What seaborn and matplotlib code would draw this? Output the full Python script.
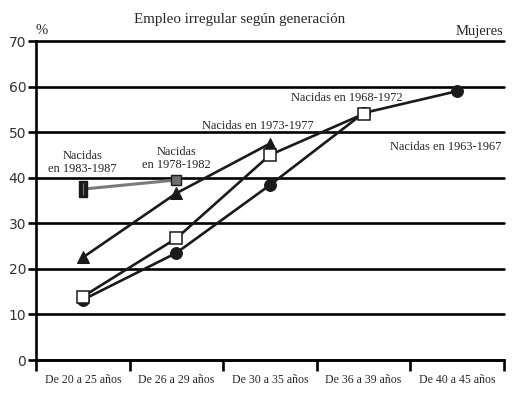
import numpy as np
import pandas as pd
import matplotlib
matplotlib.use("Agg")
import matplotlib.pyplot as plt
import seaborn as sns

# Age groups (x axis)
edades = ["De 20 a 25 años", "De 26 a 29 años", "De 30 a 35 años",
          "De 36 a 39 años", "De 40 a 45 años"]

# Irregular employment (%) by birth cohort
g1963 = [13.2, 23.5, 38.4, 54.2, 59.0]
g1968 = [13.9, 26.7, 45.0, 54.0]
g1973 = [22.5, 36.6, 47.5]
g1978_1983 = [37.5, 39.5]   # grey link: 1983-1987 point, 1978-1982 point

sns.set_theme(style="white")
plt.rcParams['font.family'] = ['Liberation Serif', 'DejaVu Serif']

fig = plt.figure(figsize=(5.2, 4.01), dpi=100)
ax = fig.add_axes([36/520, 1 - 360/401, 468/520, 319/401])

def serie(vals):
    return pd.DataFrame({"x": np.arange(len(vals)), "y": vals})

ax.set_ylim(0, 70)
ax.set_xlim(-0.5, 4.5)
for v in range(0, 71, 10):
    ax.axhline(v, color="black", lw=1.9, zorder=1, clip_on=False)

lw = 1.9
sns.lineplot(data=serie(g1963), x="x", y="y", ax=ax, color="#1a1a1a", lw=lw,
             marker="o", markersize=8.5, markeredgecolor="#1a1a1a", zorder=3)
sns.lineplot(data=serie(g1973), x="x", y="y", ax=ax, color="#1a1a1a", lw=lw,
             marker="^", markersize=9, markeredgecolor="#1a1a1a", zorder=3)
sns.lineplot(data=serie(g1968), x="x", y="y", ax=ax, color="#1a1a1a", lw=lw,
             marker="s", markersize=8, markerfacecolor="white",
             markeredgecolor="#1a1a1a", markeredgewidth=1.1, zorder=4)
sns.lineplot(data=serie(g1978_1983), x="x", y="y", ax=ax, color="#7a7a7a",
             lw=2.2, zorder=3)
# markers for the two youngest cohorts
ax.plot([1], g1978_1983[1:], ls="none", marker="s", markersize=7.5,
        markerfacecolor="#6e6e6e", markeredgecolor="#1a1a1a",
        markeredgewidth=1, zorder=5)
rect = [(-0.5, -1), (0.5, -1), (0.5, 1), (-0.5, 1), (-0.5, -1)]
ax.plot([0], g1978_1983[:1], ls="none", marker=rect, markersize=12,
        markerfacecolor="#1a1a1a", markeredgecolor="#1a1a1a", zorder=5)
ax.plot([0], g1978_1983[:1], ls="none", marker="|", markersize=9,
        markeredgecolor="#777777", markeredgewidth=0.8, zorder=6)

# axes styling
for s in ["top", "right"]:
    ax.spines[s].set_visible(False)
ax.spines["left"].set_linewidth(lw)
ax.spines["bottom"].set_linewidth(lw)
ax.spines["left"].set_color("black")
ax.spines["bottom"].set_color("black")

ax.set_yticks(range(0, 71, 10))
ax.set_yticklabels([str(v) for v in range(0, 71, 10)],
                   family="DejaVu Sans", fontsize=10, color="#333333")
ax.tick_params(axis="y", length=6, width=lw, color="black", pad=1,
               direction="out", left=True)
ax.set_xticks(np.arange(-0.5, 4.6, 1))
ax.set_xticklabels([])
ax.tick_params(axis="x", length=8, width=lw, color="black", bottom=True)
ax.set_xticks(np.arange(len(edades)), minor=True)
ax.set_xticklabels(edades, minor=True, fontsize=8.5)
ax.tick_params(axis="x", which="minor", length=0, pad=10)
ax.set_xlabel("")
ax.set_ylabel("")

# texts
fig.text(240/520, 1 - 19/401, "Empleo irregular según generación",
         ha="center", va="center", fontsize=10.8)
fig.text(42/520, 1 - 31/401, "%", ha="center", va="center", fontsize=10.5)
fig.text(503/520, 1 - 31/401, "Mujeres", ha="right", va="center",
         fontsize=10.5)
ax.text(0, 40.6, "Nacidas\nen 1983-1987", ha="center", va="bottom",
        fontsize=8.9, linespacing=1.15)
ax.text(1, 41.4, "Nacidas\nen 1978-1982", ha="center", va="bottom",
        fontsize=8.9, linespacing=1.15)
ax.text(1.87, 50.1, "Nacidas en 1973-1977", ha="center", va="bottom",
        fontsize=8.9)
ax.text(2.82, 56.1, "Nacidas en 1968-1972", ha="center", va="bottom",
        fontsize=8.9)
ax.text(3.28, 45.5, "Nacidas en 1963-1967", ha="left", va="bottom",
        fontsize=8.9)

fig.savefig("out.png", dpi=100)
